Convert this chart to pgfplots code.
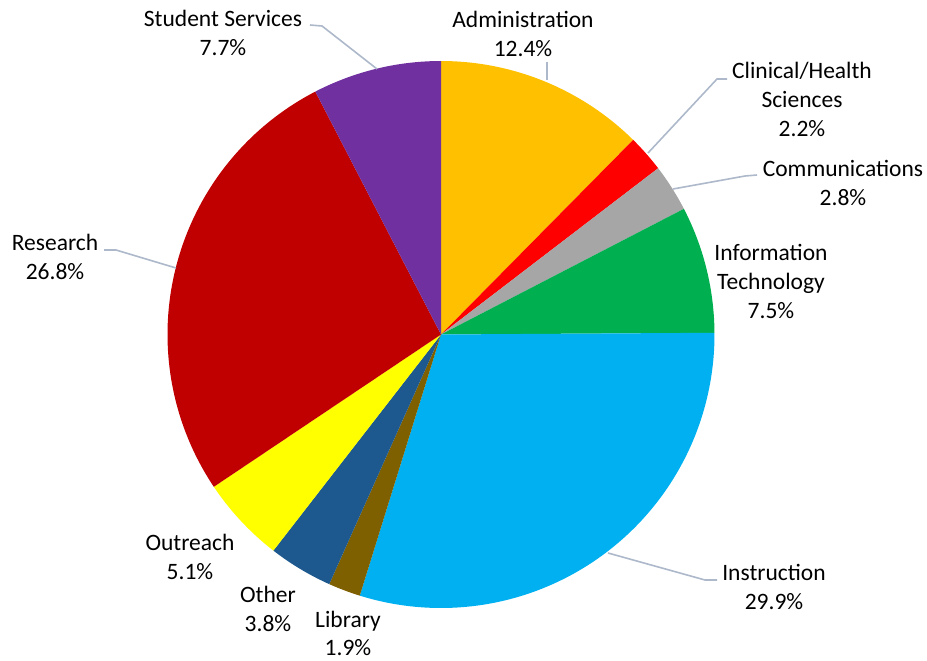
\documentclass[border=0pt]{standalone}
\usepackage{pgfplots}
\pgfplotsset{compat=1.18}
\usepackage{fontspec}
\setmainfont{Carlito}
\definecolor{cAdm}{RGB}{255,192,0}
\definecolor{cCli}{RGB}{255,0,0}
\definecolor{cCom}{RGB}{166,166,166}
\definecolor{cIT}{RGB}{0,176,80}
\definecolor{cIns}{RGB}{0,176,240}
\definecolor{cLib}{RGB}{127,96,0}
\definecolor{cOth}{RGB}{29,89,142}
\definecolor{cOut}{RGB}{255,255,0}
\definecolor{cRes}{RGB}{192,0,0}
\definecolor{cStu}{RGB}{112,48,160}
\definecolor{cLead}{RGB}{173,185,202}
\tikzset{lbl/.style={font=\fontsize{23.5pt}{29pt}\selectfont, text=black, inner sep=0pt, anchor=base}}
\begin{document}
\begin{tikzpicture}
\begin{axis}[
  scale only axis, width=927pt, height=661pt,
  xmin=0, xmax=927, ymin=0, ymax=661, y dir=reverse,
  hide axis, clip=false,
]
\addplot[draw=none] coordinates {(0,0) (927,661)};
% slices: domain = cumulative percentage (clockwise from top)
\addplot[fill=cAdm, draw=none, domain=0:12.4, samples=60] ({441+273.5*sin(3.6*x)},{334.5-273.5*cos(3.6*x)}) -- (axis cs:441,334.5) -- cycle;
\addplot[fill=cCli, draw=none, domain=12.4:14.6, samples=15] ({441+273.5*sin(3.6*x)},{334.5-273.5*cos(3.6*x)}) -- (axis cs:441,334.5) -- cycle;
\addplot[fill=cCom, draw=none, domain=14.6:17.4, samples=15] ({441+273.5*sin(3.6*x)},{334.5-273.5*cos(3.6*x)}) -- (axis cs:441,334.5) -- cycle;
\addplot[fill=cIT, draw=none, domain=17.4:24.9, samples=40] ({441+273.5*sin(3.6*x)},{334.5-273.5*cos(3.6*x)}) -- (axis cs:441,334.5) -- cycle;
\addplot[fill=cIns, draw=none, domain=24.9:54.8, samples=120] ({441+273.5*sin(3.6*x)},{334.5-273.5*cos(3.6*x)}) -- (axis cs:441,334.5) -- cycle;
\addplot[fill=cLib, draw=none, domain=54.8:56.7, samples=15] ({441+273.5*sin(3.6*x)},{334.5-273.5*cos(3.6*x)}) -- (axis cs:441,334.5) -- cycle;
\addplot[fill=cOth, draw=none, domain=56.7:60.5, samples=20] ({441+273.5*sin(3.6*x)},{334.5-273.5*cos(3.6*x)}) -- (axis cs:441,334.5) -- cycle;
\addplot[fill=cOut, draw=none, domain=60.5:65.6, samples=25] ({441+273.5*sin(3.6*x)},{334.5-273.5*cos(3.6*x)}) -- (axis cs:441,334.5) -- cycle;
\addplot[fill=cRes, draw=none, domain=65.6:92.4, samples=110] ({441+273.5*sin(3.6*x)},{334.5-273.5*cos(3.6*x)}) -- (axis cs:441,334.5) -- cycle;
\addplot[fill=cStu, draw=none, domain=92.4:100, samples=40] ({441+273.5*sin(3.6*x)},{334.5-273.5*cos(3.6*x)}) -- (axis cs:441,334.5) -- cycle;
% leader lines
\addplot[cLead, line width=1.6pt] coordinates {(310,25) (322,26) (377,69)};
\addplot[cLead, line width=1.6pt] coordinates {(547,62) (547,80)};
\addplot[cLead, line width=1.6pt] coordinates {(727,79) (717,79) (648,153)};
\addplot[cLead, line width=1.6pt] coordinates {(757,175) (745,176) (673,189)};
\addplot[cLead, line width=1.6pt] coordinates {(104,250) (116,250) (176,268)};
\addplot[cLead, line width=1.6pt] coordinates {(717,580) (705,580) (608,553)};
% labels
\node[lbl] at (axis cs:523,28) {Administration};
\node[lbl] at (axis cs:523,57) {12.4\%};
\node[lbl] at (axis cs:223,27) {Student Services};
\node[lbl] at (axis cs:223,56) {7.7\%};
\node[lbl] at (axis cs:802,78) {Clinical/Health};
\node[lbl] at (axis cs:802,107) {Sciences};
\node[lbl] at (axis cs:802,136) {2.2\%};
\node[lbl] at (axis cs:843,176) {Communications};
\node[lbl] at (axis cs:843,205) {2.8\%};
\node[lbl] at (axis cs:771,260) {Information};
\node[lbl] at (axis cs:771,289) {Technology};
\node[lbl] at (axis cs:771,318) {7.5\%};
\node[lbl] at (axis cs:55,250) {Research};
\node[lbl] at (axis cs:55,279) {26.8\%};
\node[lbl] at (axis cs:774,580) {Instruction};
\node[lbl] at (axis cs:774,609) {29.9\%};
\node[lbl] at (axis cs:190,550) {Outreach};
\node[lbl] at (axis cs:190,579) {5.1\%};
\node[lbl] at (axis cs:268,602) {Other};
\node[lbl] at (axis cs:268,631) {3.8\%};
\node[lbl] at (axis cs:348,627) {Library};
\node[lbl] at (axis cs:348,655) {1.9\%};
\end{axis}
\end{tikzpicture}
\end{document}
